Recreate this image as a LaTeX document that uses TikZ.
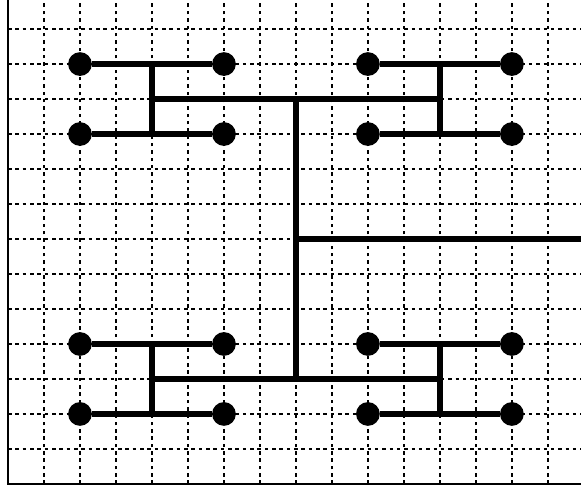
\documentclass[tikz,border=0pt]{standalone}
\begin{document}
\begin{tikzpicture}[x=1cm,y=0.9722cm,
  gridline/.style={line width=1.5pt,dash pattern=on 2.8pt off 3pt,black},
  frame/.style={line width=1.6pt,black},
  wire/.style={line width=4.8pt,black},
  leaf/.style={circle,fill=black,inner sep=0pt,minimum size=0.66cm}]
\useasboundingbox (-0.222,-0.371) rectangle (15.92,13.83);
\begin{scope}
\clip (-0.222,-0.371) rectangle (15.92,13.83);
\draw[gridline] (0,0) grid[step=1] (16,14);
\draw[frame] (0,14) -- (0,0) -- (16,0);
\end{scope}
% coordinates
\coordinate (c) at (8,7);
\coordinate (e) at (15.95,7);
\coordinate (ct) at (8,11);
\coordinate (cb) at (8,3);
\coordinate (tl) at (4,11);
\coordinate (tr) at (12,11);
\coordinate (bl) at (4,3);
\coordinate (br) at (12,3);
\coordinate (tlu) at (4,12); \coordinate (tld) at (4,10);
\coordinate (tru) at (12,12); \coordinate (trd) at (12,10);
\coordinate (blu) at (4,4); \coordinate (bld) at (4,2);
\coordinate (bru) at (12,4); \coordinate (brd) at (12,2);
% wires
\draw[wire] (c) -- (e);
\draw[wire] (ct) -- (cb);
\draw[wire] (tl) -- (tr);
\draw[wire] (bl) -- (br);
\draw[wire] (tlu) -- (tld);
\draw[wire] (tru) -- (trd);
\draw[wire] (blu) -- (bld);
\draw[wire] (bru) -- (brd);
% leaves
\foreach \n/\x/\y in {a1/2/12,a2/6/12,a3/2/10,a4/6/10,
                      b1/10/12,b2/14/12,b3/10/10,b4/14/10,
                      c1/2/4,c2/6/4,c3/2/2,c4/6/2,
                      d1/10/4,d2/14/4,d3/10/2,d4/14/2}
  \node[leaf] (\n) at (\x,\y) {};
\draw[wire] (a1) -- (a2);
\draw[wire] (a3) -- (a4);
\draw[wire] (b1) -- (b2);
\draw[wire] (b3) -- (b4);
\draw[wire] (c1) -- (c2);
\draw[wire] (c3) -- (c4);
\draw[wire] (d1) -- (d2);
\draw[wire] (d3) -- (d4);
\end{tikzpicture}
\end{document}
